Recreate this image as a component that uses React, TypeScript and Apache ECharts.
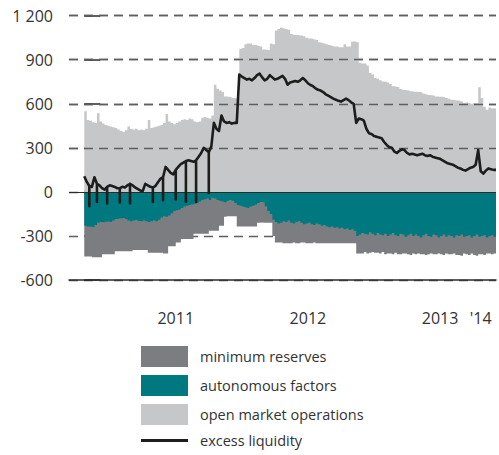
import React, { useEffect, useRef } from 'react';
import * as echarts from 'echarts';

// Weekly observations, index 0 = first week shown (EUR bn)
const openMarketOps = [
  550, 490, 485, 475, 470, 535, 480, 465, 455, 450,
  445, 440, 435, 425, 415, 410, 420, 445, 430, 425,
  430, 420, 425, 420, 430, 490, 435, 440, 445, 450,
  455, 470, 530, 480, 470, 460, 470, 480, 490, 495,
  490, 500, 495, 480, 475, 480, 505, 510, 505, 500,
  520, 730, 700, 690, 680, 650, 648, 645, 640, 636,
  640, 975, 980, 1005, 1010, 1010, 1000, 1000, 995, 990,
  970, 968, 965, 1010, 1005, 1100, 1110, 1120, 1115, 1110,
  1105, 1075, 1070, 1068, 1065, 1065, 1060, 1050, 1045, 1045,
  1040, 1035, 1020, 1015, 1010, 1005, 1000, 995, 990, 990,
  985, 985, 1005, 990, 990, 1025, 1025, 1020, 880, 875,
  875, 860, 810, 800, 775, 770, 760, 752, 750, 745,
  735, 720, 716, 712, 700, 695, 693, 690, 685, 682,
  682, 680, 678, 670, 665, 660, 658, 655, 650, 648,
  648, 645, 640, 635, 628, 625, 622, 620, 615, 608,
  610, 605, 600, 605, 605, 712, 640, 580, 560, 575,
  570, 568, 565,
];

const autonomousFactors = [
  -230, -235, -238, -240, -225, -210, -205, -208, -203, -200,
  -205, -195, -185, -182, -180, -178, -185, -195, -200, -195,
  -190, -198, -200, -195, -200, -205, -200, -195, -200, -190,
  -175, -165, -170, -160, -145, -130, -125, -120, -110, -100,
  -95, -90, -85, -80, -75, -65, -55, -50, -45, -55,
  -40, -45, -55, -60, -65, -70, -60, -55, -60, -75,
  -90, -95, -100, -105, -110, -100, -95, -85, -75, -68,
  -70, -100, -130, -150, -190, -205, -215, -210, -200, -205,
  -195, -210, -215, -205, -200, -210, -220, -215, -210, -220,
  -225, -215, -220, -230, -225, -235, -240, -235, -245, -240,
  -250, -245, -255, -250, -260, -255, -265, -300, -290, -280,
  -285, -290, -275, -285, -295, -280, -290, -295, -285, -300,
  -290, -280, -295, -300, -285, -290, -305, -295, -285, -300,
  -290, -300, -310, -295, -285, -300, -305, -290, -295, -310,
  -300, -290, -305, -295, -300, -310, -295, -300, -290, -305,
  -300, -295, -310, -300, -290, -305, -300, -295, -310, -300,
  -295, -305, -300,
];

const minimumReserves = [
  -210, -205, -202, -205, -220, -235, -240, -217, -222, -225,
  -220, -230, -220, -223, -225, -227, -220, -210, -205, -200,
  -205, -197, -195, -200, -195, -210, -215, -220, -215, -225,
  -240, -255, -250, -210, -225, -240, -220, -225, -210, -220,
  -225, -230, -235, -205, -210, -220, -230, -235, -240, -210,
  -225, -220, -210, -170, -165, -100, -105, -110, -105, -90,
  -145, -140, -135, -130, -125, -135, -140, -150, -135, -140,
  -140, -110, -80, -60, -110, -140, -130, -135, -150, -145,
  -155, -140, -130, -145, -150, -135, -125, -135, -140, -130,
  -120, -135, -130, -120, -125, -115, -110, -115, -105, -110,
  -100, -105, -95, -100, -90, -95, -85, -120, -130, -140,
  -125, -130, -140, -125, -120, -135, -130, -115, -140, -120,
  -130, -145, -120, -125, -140, -130, -115, -130, -145, -120,
  -135, -120, -115, -130, -145, -125, -115, -135, -130, -110,
  -125, -140, -115, -130, -125, -110, -135, -130, -145, -115,
  -125, -135, -110, -130, -145, -120, -125, -135, -110, -120,
  -130, -115, -125,
];

const excessLiquidity = [
  107, 68, 40, 34, 100, 55, 45, 25, 15, 35,
  45, 40, 34, 25, 25, 35, 30, 45, 55, 45,
  30, 20, 10, 5, 55, 45, 35, 30, 40, 65,
  90, 100, 170, 150, 130, 120, 150, 170, 190, 200,
  210, 215, 210, 205, 215, 240, 265, 300, 285, 270,
  310, 470, 430, 415, 520, 480, 470, 475, 465, 470,
  470, 800, 785, 775, 765, 770, 760, 775, 795, 805,
  780, 760, 770, 795, 780, 765, 770, 780, 790, 770,
  730, 745, 750, 755, 750, 760, 775, 760, 740, 728,
  720, 705, 695, 690, 680, 665, 655, 645, 635, 628,
  620, 615, 625, 635, 625, 610, 600, 470, 500, 495,
  485, 430, 400, 395, 380, 375, 370, 365, 340, 320,
  305, 300, 275, 265, 280, 290, 285, 265, 255, 260,
  255, 250, 255, 260, 250, 245, 250, 240, 235, 230,
  225, 215, 205, 195, 190, 185, 175, 165, 160, 150,
  145, 155, 165, 170, 185, 285, 140, 125, 145, 160,
  155, 150, 150,
];

// End-of-maintenance-period dips in excess liquidity
const spikeWeeks = [2, 5, 9, 14, 18, 27, 31, 36, 40, 44, 49];
const spikeLows = [-97, -68, -79, -72, -79, -68, -57, -52, -68, -68, -7];

// X labels
const xLabelWeeks = [36, 88, 140, 156];
const xLabelTexts = ['2011', '2012', '2013', "'14"];

// Y axis
const yTicks = [-600, -300, 0, 300, 600, 900, 1200];
const gridOverlayValues = [300, 600, 900, 1200];

const FONT = '"Open Sans", "Noto Sans", sans-serif';

export default function App() {
  const ref = useRef<HTMLDivElement>(null);

  useEffect(() => {
    if (!ref.current) return;
    const chart = echarts.init(ref.current, undefined, { renderer: 'svg' });

    const pairs = (arr: number[]) => arr.map((v, i) => [i, v]);
    // Minimum reserves sit below the autonomous factors: their lower edge
    const reservesLowerEdge = minimumReserves.map((v, i) => v + autonomousFactors[i]);

    const lineData: number[][] = [];
    excessLiquidity.forEach((v, i) => {
      lineData.push([i, v]);
      const k = spikeWeeks.indexOf(i);
      if (k >= 0) {
        lineData.push([i, spikeLows[k]]);
        lineData.push([i, v]);
      }
    });

    const areaSeries = (name: string, data: number[][], color: string, z: number) => ({
      name,
      type: 'line',
      data,
      step: 'end',
      symbol: 'none',
      silent: true,
      color,
      itemStyle: { color },
      lineStyle: { width: 0, color },
      areaStyle: { color, opacity: 1 },
      z,
    });

    const option: any = {
      animation: false,
      textStyle: { fontFamily: FONT },
      grid: { left: 69, top: 15.7, width: 430, height: 264.3, containLabel: false },
      legend: {
        orient: 'vertical',
        left: 141,
        top: 346,
        padding: 0,
        itemWidth: 47,
        itemHeight: 21,
        itemGap: 8,
        selectedMode: false,
        textStyle: { fontSize: 14.5, color: '#333', fontFamily: FONT, padding: [0, 0, 0, 7] },
        data: [
          { name: 'minimum reserves', icon: 'rect' },
          { name: 'autonomous factors', icon: 'rect' },
          { name: 'open market operations', icon: 'rect' },
          { name: 'excess liquidity', icon: 'path://M0,0H50V3H0Z' },
        ],
      },
      xAxis: {
        type: 'value',
        min: -6,
        max: 162,
        interval: 1,
        axisLine: { onZero: false, lineStyle: { color: '#2b2b2b', width: 1.5 } },
        axisTick: { show: false },
        splitLine: { show: false },
        axisLabel: {
          margin: 30,
          fontSize: 16,
          color: '#333',
          fontFamily: FONT,
          formatter: (v: number) => {
            const k = xLabelWeeks.indexOf(v);
            return k >= 0 ? xLabelTexts[k] : '';
          },
        },
      },
      yAxis: {
        type: 'value',
        min: yTicks[0],
        max: yTicks[yTicks.length - 1],
        interval: 300,
        axisLine: { show: false },
        axisTick: { show: true, inside: true, length: 16, lineStyle: { color: '#2b2b2b', width: 1.5 } },
        axisLabel: {
          margin: 16,
          fontSize: 16,
          color: '#333',
          fontFamily: FONT,
          formatter: (v: number) => (v === 1200 ? '1 200' : String(v)),
        },
        splitLine: { show: true, lineStyle: { type: [9, 6], color: '#5e5e5e', width: 1.3 } },
      },
      series: [
        areaSeries('open market operations', pairs(openMarketOps), '#c6c7c9', 1),
        areaSeries('minimum reserves', pairs(reservesLowerEdge), '#7c7d81', 1),
        areaSeries('autonomous factors', pairs(autonomousFactors), '#007880', 2),
        {
          name: 'gridOverlay',
          type: 'line',
          data: [],
          silent: true,
          z: 3,
          markLine: {
            silent: true,
            symbol: ['none', 'none'],
            label: { show: false },
            lineStyle: { type: [9, 6], color: '#5e5e5e', width: 1.3 },
            data: [
              ...gridOverlayValues.map((v) => ({ yAxis: v })),
              { yAxis: 0, lineStyle: { type: 'solid', color: '#2b2b2b', width: 1.2 } },
            ],
          },
        },
        {
          name: 'excess liquidity',
          type: 'line',
          data: lineData,
          symbol: 'none',
          silent: true,
          color: '#1d1d1b',
          itemStyle: { color: '#1d1d1b' },
          lineStyle: { color: '#1d1d1b', width: 2.6, join: 'round' },
          z: 5,
        },
      ],
    };

    chart.setOption(option);
    return () => chart.dispose();
  }, []);

  return (
    <div
      ref={ref}
      style={{ position: 'fixed', left: 0, top: 0, width: 499, height: 455, background: '#fff' }}
    />
  );
}
